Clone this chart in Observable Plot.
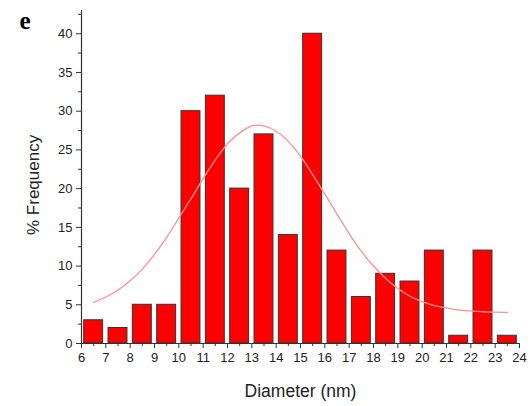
<!DOCTYPE html>
<html>
<head>
<meta charset="utf-8">
<script src="https://cdn.jsdelivr.net/npm/d3@7"></script>
<script src="https://cdn.jsdelivr.net/npm/@observablehq/plot@0.6"></script>
<style>
  html, body { margin: 0; padding: 0; background: #fff; }
  #chart { width: 531px; height: 406px; }
  svg { font-family: "Liberation Sans", Arial, sans-serif; }
</style>
</head>
<body>
<div id="chart"></div>
<script>
// Histogram bins (lower edge, nm) and % frequency
const binStart = [6, 7, 8, 9, 10, 11, 12, 13, 14, 15, 16, 17, 18, 19, 20, 21, 22, 23];
const frequency = [3, 2, 5, 5, 30, 32, 20, 27, 14, 40, 12, 6, 9, 8, 12, 1, 12, 1];

// Fitted curve
const fitX = [6.5, 7, 7.5, 8, 8.5, 9, 9.5, 10, 10.5, 11, 11.5, 12, 12.5, 13, 13.5, 14, 14.5, 15, 15.5, 16, 16.5, 17, 17.5, 18, 18.5, 19, 19.5, 20, 20.5, 21, 21.5, 22, 22.5, 23, 23.5];
const fitY = [5.3, 6.0, 6.9, 8.1, 9.6, 11.5, 13.7, 16.2, 18.7, 21.3, 23.7, 25.8, 27.2, 28.1, 28.1, 27.4, 26.1, 24.2, 21.8, 19.3, 16.7, 14.2, 11.9, 10.0, 8.4, 7.1, 6.1, 5.4, 4.9, 4.6, 4.3, 4.2, 4.1, 4.05, 4.0];

const xMajor = d3.range(6, 25, 1);
const xMinor = d3.range(6.5, 24, 1);
const yMajor = [0, 5, 10, 15, 20, 25, 30, 35, 40];
const yMinor = [2.5, 7.5, 12.5, 17.5, 22.5, 27.5, 32.5, 37.5, 42.5];

const bars = binStart.map((lo, i) => ({lo, hi: lo + 1, f: frequency[i]}));
const fit = fitX.map((x, i) => ({x, y: fitY[i]}));

const axisColor = "#333";

const chart = Plot.plot({
  width: 531,
  height: 406,
  marginLeft: 81,
  marginRight: 12,
  marginTop: 10,
  marginBottom: 63,
  style: {fontFamily: "'Liberation Sans', Arial, sans-serif", background: "#fff"},
  x: {domain: [6, 24]},
  y: {domain: [0, 43]},
  marks: [
    Plot.rectY(bars, {x1: "lo", x2: "hi", y: "f", fill: "#ff0000", stroke: "#333", strokeWidth: 1, insetLeft: 2.7, insetRight: 2.7}),
    Plot.line(fit, {x: "x", y: "y", stroke: "#ff9090", strokeWidth: 1.3, curve: "natural"}),
    Plot.ruleY([0], {stroke: axisColor, strokeWidth: 1.2}),
    Plot.ruleX([6], {y1: 0, y2: 43, stroke: axisColor, strokeWidth: 1.2}),
    Plot.axisX({ticks: xMajor, tickSize: 5, tickPadding: 4, tickFormat: d => d, fontSize: 13, label: null, stroke: axisColor, color: "#222"}),
    Plot.axisX({ticks: xMinor, tickSize: 3, tickFormat: () => "", label: null, stroke: axisColor}),
    Plot.axisY({ticks: yMajor, tickSize: 5, tickPadding: 4, tickFormat: d => d, fontSize: 13, label: null, stroke: axisColor, color: "#222"}),
    Plot.axisY({ticks: yMinor, tickSize: 3, tickFormat: () => "", label: null, stroke: axisColor}),
    Plot.text(["Diameter (nm)"], {frameAnchor: "bottom", dy: 53, fontSize: 17.5, fill: "#222"}),
    Plot.text(["% Frequency"], {frameAnchor: "left", dx: -48, dy: 58, rotate: -90, fontSize: 17, fill: "#222"}),
    Plot.text(["e"], {frameAnchor: "top-left", dx: -62, dy: 1, fontSize: 25, fontWeight: "bold", fontFamily: "'Liberation Serif', 'Times New Roman', serif", fill: "#000"})
  ]
});
document.getElementById("chart").append(chart);
</script>
</body>
</html>
